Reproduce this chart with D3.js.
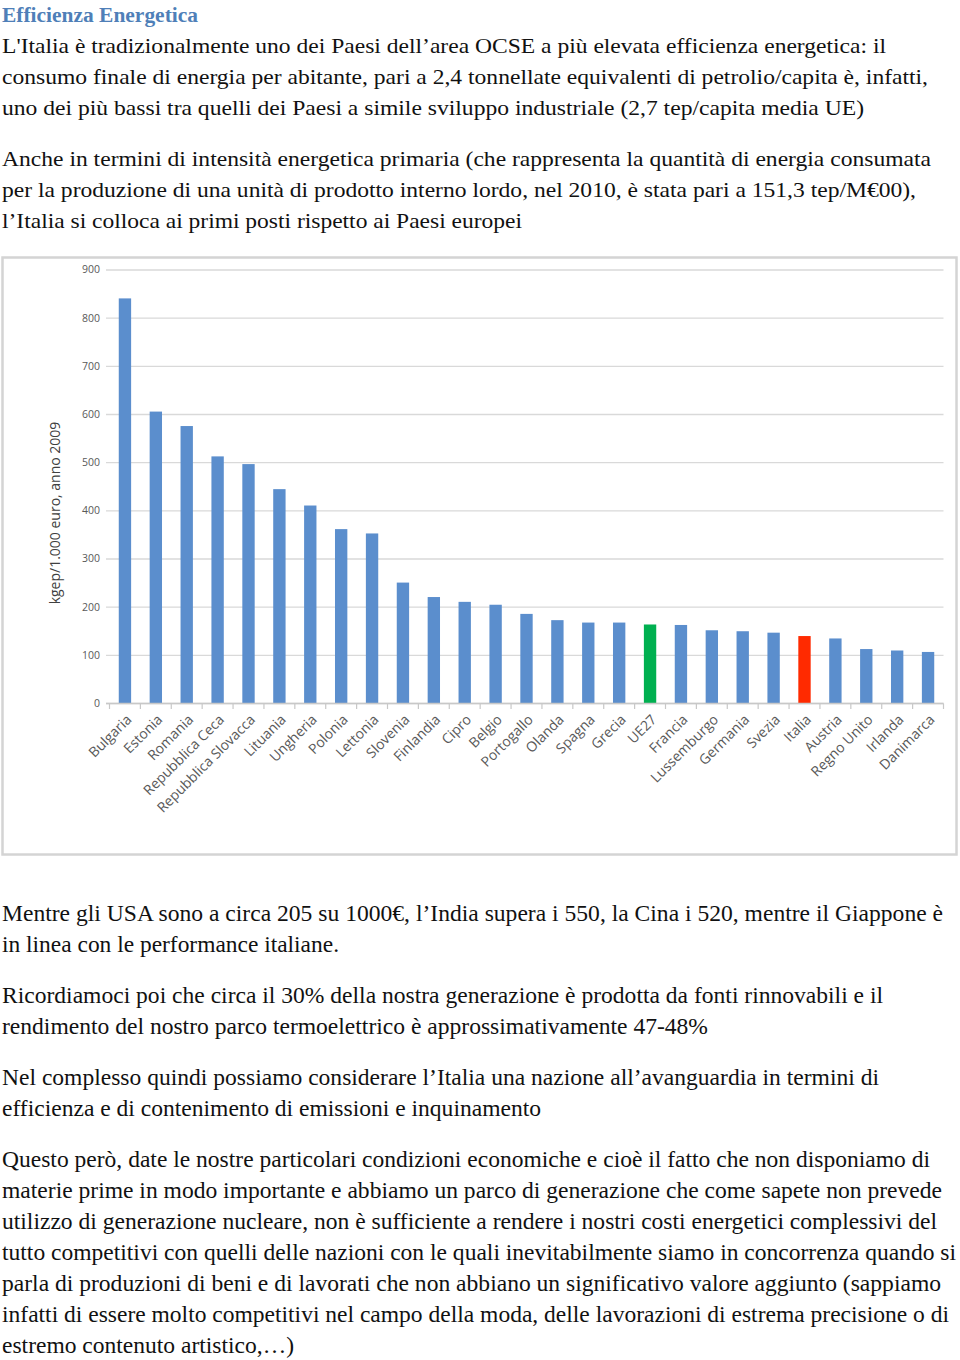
<!DOCTYPE html>
<html>
<head>
<meta charset="utf-8">
<script src="https://cdn.jsdelivr.net/npm/d3@7"></script>
<style>
  html, body { margin: 0; padding: 0; background: #ffffff; }
  svg { display: block; }
</style>
</head>
<body>
<svg id="page" width="960" height="1360"></svg>
<script>
// ---- data ----
const categories = ["Bulgaria","Estonia","Romania","Repubblica Ceca","Repubblica Slovacca","Lituania","Ungheria","Polonia","Lettonia","Slovenia","Finlandia","Cipro","Belgio","Portogallo","Olanda","Spagna","Grecia","UE27","Francia","Lussemburgo","Germania","Svezia","Italia","Austria","Regno Unito","Irlanda","Danimarca"];
const values = [840,605,575,512,496,444,410,361,352,250,220,210,204,185,172,167,167,163,162,151,149,146,139,134,112,109,106];
const highlight = {"UE27": "#00b050", "Italia": "#ff2a00"};
const yTicks = [0,100,200,300,400,500,600,700,800,900];
const yTitle = "kgep/1.000 euro, anno 2009";

const title = "Efficienza Energetica";
const topLines = [
  "L'Italia è tradizionalmente uno dei Paesi dell’area OCSE a più elevata efficienza energetica: il",
  "consumo finale di energia per abitante, pari a 2,4 tonnellate equivalenti di petrolio/capita è, infatti,",
  "uno dei più bassi tra quelli dei Paesi a simile sviluppo industriale (2,7 tep/capita media UE)",
  null,
  "Anche in termini di intensità energetica primaria (che rappresenta la quantità di energia consumata",
  "per la produzione di una unità di prodotto interno lordo, nel 2010, è stata pari a 151,3 tep/M€00),",
  "l’Italia si colloca ai primi posti rispetto ai Paesi europei"
];
const topWidths = [886, 928, 864, null, 931, 916, 522];
const bottomLines = [
  "Mentre gli USA sono a circa 205 su 1000€, l’India supera i 550, la Cina i 520, mentre il Giappone è",
  "in linea con le performance italiane.",
  null,
  "Ricordiamoci poi che circa il 30% della nostra generazione è prodotta da fonti rinnovabili e il",
  "rendimento del nostro parco termoelettrico è approssimativamente 47-48%",
  null,
  "Nel complesso quindi possiamo considerare l’Italia una nazione all’avanguardia in termini di",
  "efficienza e di contenimento di emissioni e inquinamento",
  null,
  "Questo però, date le nostre particolari condizioni economiche e cioè il fatto che non disponiamo di",
  "materie prime in modo importante e abbiamo un parco di generazione che come sapete non prevede",
  "utilizzo di generazione nucleare, non è sufficiente a rendere i nostri costi energetici complessivi del",
  "tutto competitivi con quelli delle nazioni con le quali inevitabilmente siamo in concorrenza quando si",
  "parla di produzioni di beni e di lavorati che non abbiano un significativo valore aggiunto (sappiamo",
  "infatti di essere molto competitivi nel campo della moda, delle lavorazioni di estrema precisione o di",
  "estremo contenuto artistico,…)"
];
const bottomWidths = [943, 339, null, 883, 708, null, 879, 541, null, 930, 942, 937, 956, 941, 949, 294];

// ---- page ----
const svg = d3.select("#page");
const serif = "'Liberation Serif', 'Times New Roman', serif";

svg.append("text")
  .attr("x", 2).attr("y", 22)
  .attr("font-family", serif).attr("font-weight", "bold")
  .attr("font-size", 20).attr("fill", "#4f7fb8")
  .attr("textLength", 196).attr("lengthAdjust", "spacingAndGlyphs")
  .text(title);

function block(lines, widths, y0, size) {
  let y = y0;
  lines.forEach((ln, i) => {
    if (ln === null) { y += 20; return; }
    svg.append("text")
      .attr("x", 2).attr("y", y)
      .attr("font-family", serif).attr("font-size", size).attr("fill", "#111")
      .attr("textLength", widths[i] - 2).attr("lengthAdjust", "spacingAndGlyphs")
      .text(ln);
    y += 31;
  });
}
block(topLines, topWidths, 53, 22);
block(bottomLines, bottomWidths, 921, 23.5);

// ---- chart ----
svg.append("rect")
  .attr("x", 2.5).attr("y", 257.5).attr("width", 954).attr("height", 597)
  .attr("fill", "#fff").attr("stroke", "#d4d4d4").attr("stroke-width", 2.5);

const x = d3.scaleBand().domain(categories).range([109.5, 943.5]).paddingInner(0.6).paddingOuter(0.3);
const y = d3.scaleLinear().domain([0, 900]).range([703, 269.5]);
const sans = "'Open Sans', 'Liberation Sans', sans-serif";

const g = svg.append("g");

// gridlines + y labels
const yAxis = d3.axisLeft(y).tickValues(yTicks).tickSize(-(943.5 - 106)).tickPadding(8);
const ya = g.append("g").attr("transform", "translate(106,0)").call(yAxis);
ya.select(".domain").remove();
ya.selectAll(".tick line").attr("stroke", "#d9d9d9").attr("stroke-width", 1.3);
ya.selectAll(".tick text").attr("font-family", sans).attr("font-size", 10.5).attr("fill", "#595959").attr("x", -6);

// bars
g.selectAll("rect.bar").data(categories).join("rect")
  .attr("class", "bar")
  .attr("x", d => x(d))
  .attr("width", x.bandwidth())
  .attr("y", (d, i) => y(values[i]))
  .attr("height", (d, i) => y(0) - y(values[i]))
  .attr("fill", d => highlight[d] || "#5b8ecd");

// x axis line with boundary ticks
const step = x.step();
const boundaries = d3.range(categories.length + 1).map(i => 109.5 + i * step);
g.append("line").attr("x1", 106).attr("x2", 943.5).attr("y1", 703.5).attr("y2", 703.5)
  .attr("stroke", "#c8c8c8").attr("stroke-width", 1.3);
g.selectAll("line.xt").data(boundaries).join("line").attr("class", "xt")
  .attr("x1", d => d).attr("x2", d => d).attr("y1", 703.5).attr("y2", 709)
  .attr("stroke", "#c8c8c8").attr("stroke-width", 1.2);

// category labels
g.selectAll("text.cat").data(categories).join("text")
  .attr("class", "cat")
  .attr("transform", d => `translate(${x(d) + x.bandwidth() / 2 + 4},${717}) rotate(-45)`)
  .attr("text-anchor", "end")
  .attr("dy", "0.35em")
  .attr("font-family", sans).attr("font-size", 14).attr("fill", "#595959")
  .text(d => d);

// y title
g.append("text")
  .attr("transform", "translate(60,513) rotate(-90)")
  .attr("text-anchor", "middle")
  .attr("font-family", sans).attr("font-size", 14).attr("fill", "#404040")
  .text(yTitle);
</script>
</body>
</html>
